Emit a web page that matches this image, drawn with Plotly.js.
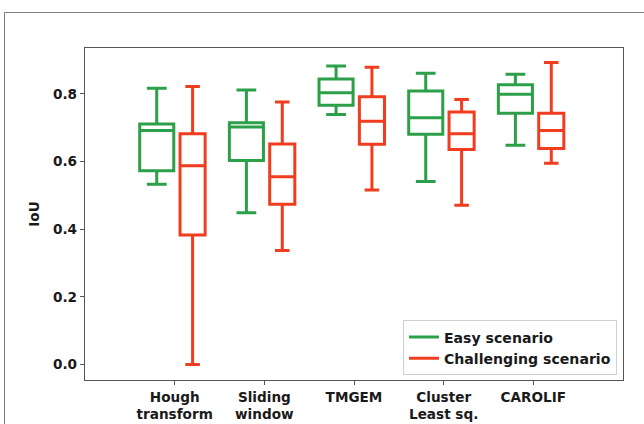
<!DOCTYPE html>
<html>
<head>
<meta charset="utf-8">
<script src="https://cdn.plot.ly/plotly-3.0.1.min.js"></script>
<style>
html,body{margin:0;padding:0;background:#fff;}
#wrap{position:relative;width:644px;height:424px;overflow:hidden;}
#chart{position:absolute;left:0;top:0;width:644px;height:424px;}
#frame{position:absolute;left:4px;top:12px;width:700px;height:500px;border-left:1.5px solid #808080;border-top:1.5px solid #808080;pointer-events:none;}
</style>
</head>
<body>
<div id="wrap"><div id="chart"></div><div id="frame"></div></div>
<script>
// Categories (tick labels)
const categories = ["Hough<br>transform", "Sliding<br>window", "TMGEM", "Cluster<br>Least sq.", "CAROLIF"];
const seriesNames = ["Easy scenario", "Challenging scenario"];

// Easy scenario statistics
const easyLower  = [0.533, 0.449, 0.739, 0.541, 0.648];
const easyQ1     = [0.573, 0.603, 0.767, 0.681, 0.743];
const easyMedian = [0.692, 0.702, 0.804, 0.730, 0.799];
const easyQ3     = [0.711, 0.715, 0.844, 0.809, 0.827];
const easyUpper  = [0.817, 0.812, 0.883, 0.861, 0.858];

// Challenging scenario statistics
const challLower  = [0.000, 0.337, 0.516, 0.471, 0.595];
const challQ1     = [0.383, 0.474, 0.651, 0.636, 0.639];
const challMedian = [0.588, 0.555, 0.719, 0.682, 0.692];
const challQ3     = [0.682, 0.652, 0.792, 0.747, 0.743];
const challUpper  = [0.822, 0.776, 0.879, 0.784, 0.893];

const yTicks = [0.0, 0.2, 0.4, 0.6, 0.8];

const GREEN = '#2ca048';
const RED = '#f03c1f';
const idx = categories.map((c, i) => i);

const font = {family: 'DejaVu Sans', size: 13.6, color: '#1a1a1a', weight: 'bold'};
const legendFont = {family: 'DejaVu Sans', size: 14.1, color: '#1a1a1a', weight: 'bold'};

function boxTrace(name, color, offset, width, lo, q1, med, q3, hi) {
  return {
    type: 'box', name: name, showlegend: false,
    x: idx.map(i => i + offset),
    lowerfence: lo, q1: q1, median: med, q3: q3, upperfence: hi,
    width: width, whiskerwidth: 0.58,
    boxpoints: false,
    line: {color: color, width: 3},
    fillcolor: 'rgba(255,255,255,0)',
    hoverinfo: 'skip'
  };
}

const data = [
  boxTrace(seriesNames[0], GREEN, -0.2, 0.38, easyLower, easyQ1, easyMedian, easyQ3, easyUpper),
  boxTrace(seriesNames[1], RED, 0.2, 0.28, challLower, challQ1, challMedian, challQ3, challUpper),
  {type: 'scatter', mode: 'lines', name: seriesNames[0], x: [null], y: [null], line: {color: GREEN, width: 3}},
  {type: 'scatter', mode: 'lines', name: seriesNames[1], x: [null], y: [null], line: {color: RED, width: 3}}
];

const layout = {
  width: 644, height: 424,
  margin: {l: 85, r: 21, t: 48, b: 44, pad: 0},
  paper_bgcolor: 'rgba(0,0,0,0)', plot_bgcolor: '#fff',
  font: font,
  boxmode: 'overlay',
  showlegend: true,
  xaxis: {
    range: [-1, 5], tickvals: idx, ticktext: categories,
    showgrid: false, zeroline: false,
    showline: true, mirror: true, linecolor: '#555', linewidth: 1.2,
    ticks: 'outside', ticklen: 4, tickwidth: 1, tickcolor: '#555',
    tickfont: font
  },
  yaxis: {
    range: [-0.046, 0.936], tickvals: yTicks, tickformat: '.1f',
    showgrid: false, zeroline: false,
    showline: true, mirror: true, linecolor: '#555', linewidth: 1.2,
    ticks: 'outside', ticklen: 4, tickwidth: 1, tickcolor: '#555',
    tickfont: font,
    title: {text: 'IoU', font: font, standoff: 10}
  },
  legend: {
    x: 0.9888, y: 0.014, xanchor: 'right', yanchor: 'bottom',
    bgcolor: '#fff', bordercolor: '#d0d0d0', borderwidth: 1,
    font: legendFont, tracegroupgap: 0
  }
};

Plotly.newPlot('chart', data, layout, {displayModeBar: false, staticPlot: true});
</script>
</body>
</html>
